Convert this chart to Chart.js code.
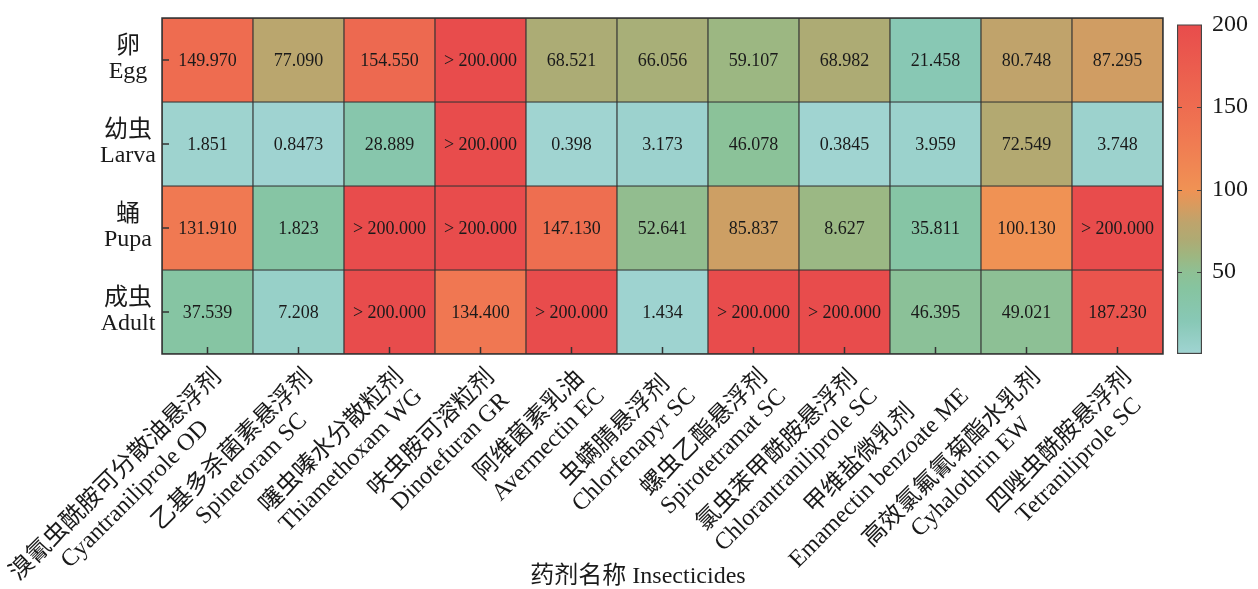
<!DOCTYPE html>
<html>
<head>
<meta charset="utf-8">
<script src="https://cdn.jsdelivr.net/npm/chart.js@4.4.1/dist/chart.umd.min.js"></script>
<style>
  body { margin: 0; background: #fff; }
  #wrap { position: relative; width: 1258px; height: 589px; }
  #heat { position: absolute; left: 0; top: 0; }
  #bar { position: absolute; left: 1170px; top: 0; }
</style>
</head>
<body>
<div id="wrap">
  <canvas id="heat" width="1258" height="589"></canvas>
  <canvas id="bar" width="88" height="589"></canvas>
</div>
<script>
const stageCN = ["卵", "幼虫", "蛹", "成虫"];
const stageEN = ["Egg", "Larva", "Pupa", "Adult"];

const insecticideCN = ["溴氰虫酰胺可分散油悬浮剂", "乙基多杀菌素悬浮剂", "噻虫嗪水分散粒剂", "呋虫胺可溶粒剂",
  "阿维菌素乳油", "虫螨腈悬浮剂", "螺虫乙酯悬浮剂", "氯虫苯甲酰胺悬浮剂", "甲维盐微乳剂",
  "高效氯氟氰菊酯水乳剂", "四唑虫酰胺悬浮剂"];
const insecticideEN = ["Cyantraniliprole OD", "Spinetoram SC", "Thiamethoxam WG", "Dinotefuran GR",
  "Avermectin EC", "Chlorfenapyr SC", "Spirotetramat SC", "Chlorantraniliprole SC",
  "Emamectin benzoate ME", "Cyhalothrin EW", "Tetraniliprole SC"];

// printed LC50 values
const eggLC50 = ["149.970", "77.090", "154.550", "> 200.000", "68.521", "66.056", "59.107", "68.982", "21.458", "80.748", "87.295"];
const larvaLC50 = ["1.851", "0.8473", "28.889", "> 200.000", "0.398", "3.173", "46.078", "0.3845", "3.959", "72.549", "3.748"];
const pupaLC50 = ["131.910", "1.823", "> 200.000", "> 200.000", "147.130", "52.641", "85.837", "8.627", "35.811", "100.130", "> 200.000"];
const adultLC50 = ["37.539", "7.208", "> 200.000", "134.400", "> 200.000", "1.434", "> 200.000", "> 200.000", "46.395", "49.021", "187.230"];

// colour scale position of each cell
const eggShade = [150, 77, 155, 200, 68.5, 66, 59, 69, 21.5, 80.7, 87.3];
const larvaShade = [1.9, 0.85, 28.9, 200, 0.4, 3.2, 46, 0.38, 4, 72.5, 3.7];
const pupaShade = [132, 36, 200, 200, 147, 52.6, 85.8, 58, 35.8, 100, 200];
const adultShade = [37.5, 7.2, 200, 134.4, 200, 1.4, 200, 200, 46.4, 49, 187];

const scaleMin = 0.3845;
const scaleMax = 200;
const scaleTicks = [50, 100, 150, 200];

const rowLabels = [eggLC50, larvaLC50, pupaLC50, adultLC50];
const rowShades = [eggShade, larvaShade, pupaShade, adultShade];

const FONT = "'Liberation Serif', 'Noto Sans CJK SC', serif";
const INK = "#1a1a1a";
const EDGE = "#333";

// colour map
const cmapStops = [0, 20, 40, 50, 60, 70, 80, 90, 100, 130, 150, 175, 200];
const cmapRGB = [
  [160, 212, 210], [136, 200, 182], [134, 196, 160], [142, 192, 148], [158, 182, 128],
  [175, 170, 115], [190, 164, 108], [215, 155, 95], [240, 146, 84], [240, 122, 82],
  [238, 108, 80], [235, 92, 78], [232, 76, 76]
];

function shadeColor(v) {
  if (v <= cmapStops[0]) return "rgb(" + cmapRGB[0].join(",") + ")";
  for (let i = 1; i < cmapStops.length; i++) {
    if (v <= cmapStops[i]) {
      const t = (v - cmapStops[i - 1]) / (cmapStops[i] - cmapStops[i - 1]);
      const a = cmapRGB[i - 1], b = cmapRGB[i];
      const c = a.map((x, k) => Math.round(x + (b[k] - x) * t));
      return "rgb(" + c.join(",") + ")";
    }
  }
  return "rgb(" + cmapRGB[cmapRGB.length - 1].join(",") + ")";
}

const datasets = stageEN.map((stage, r) => ({
  label: stage,
  data: insecticideEN.map(() => [r, r + 1]),
  backgroundColor: rowShades[r].map(shadeColor),
  borderColor: EDGE,
  borderWidth: 0.9,
  borderSkipped: false,
  barPercentage: 1,
  categoryPercentage: 1,
  grouped: false,
}));

const heatDecor = {
  id: "heatDecor",
  afterDatasetsDraw(chart) {
    const { ctx, chartArea: a, scales: { x, y } } = chart;
    ctx.save();

    // numbers inside the cells
    ctx.font = "18px " + FONT;
    ctx.fillStyle = INK;
    ctx.textAlign = "center";
    ctx.textBaseline = "middle";
    chart.data.datasets.forEach((ds, r) => {
      chart.getDatasetMeta(r).data.forEach((bar, i) => {
        ctx.fillText(rowLabels[r][i], bar.x, (bar.y + bar.base) / 2 + 1);
      });
    });

    // frame
    ctx.strokeStyle = EDGE;
    ctx.lineWidth = 1.5;
    ctx.strokeRect(a.left, a.top, a.right - a.left, a.bottom - a.top);

    // inward ticks
    ctx.beginPath();
    insecticideEN.forEach((_, i) => {
      const px = x.getPixelForValue(i);
      ctx.moveTo(px, a.bottom);
      ctx.lineTo(px, a.bottom - 7);
    });
    stageEN.forEach((_, r) => {
      const py = y.getPixelForValue(r + 0.5);
      ctx.moveTo(a.left, py);
      ctx.lineTo(a.left + 7, py);
    });
    ctx.stroke();

    // row labels
    ctx.font = "24px " + FONT;
    stageEN.forEach((en, r) => {
      const py = y.getPixelForValue(r + 0.5);
      ctx.fillText(stageCN[r], 128, py - 13);
      ctx.fillText(en, 128, py + 12);
    });

    // rotated column labels
    insecticideEN.forEach((en, i) => {
      const cn = insecticideCN[i];
      const px = x.getPixelForValue(i);
      const w = Math.max(ctx.measureText(cn).width, ctx.measureText(en).width);
      ctx.save();
      ctx.translate(px + 2, 365);
      ctx.rotate(-Math.PI / 4);
      ctx.textAlign = "center";
      ctx.textBaseline = "top";
      ctx.fillText(cn, -w / 2, 0);
      ctx.fillText(en, -w / 2, 27);
      ctx.restore();
    });

    // axis title
    ctx.textAlign = "center";
    ctx.textBaseline = "middle";
    ctx.fillText("药剂名称 Insecticides", 638, 577);
    ctx.restore();
  }
};

new Chart(document.getElementById("heat"), {
  type: "bar",
  data: { labels: insecticideEN, datasets: datasets },
  options: {
    responsive: false,
    animation: false,
    layout: { padding: { top: 18, right: 95, bottom: 0, left: 0 } },
    plugins: { legend: { display: false }, tooltip: { enabled: false } },
    scales: {
      x: {
        type: "category",
        grid: { display: false },
        border: { display: false },
        ticks: { display: false },
        afterFit: (s) => { s.height = 235; },
      },
      y: {
        type: "linear",
        min: 0,
        max: 4,
        reverse: true,
        grid: { display: false },
        border: { display: false },
        ticks: { display: false },
        afterFit: (s) => { s.width = 162; },
      },
    },
  },
  plugins: [heatDecor],
});

// colour bar
const barDecor = {
  id: "barDecor",
  afterDatasetsDraw(chart) {
    const { ctx, chartArea: a, scales: { y } } = chart;
    ctx.save();
    ctx.strokeStyle = "#444";
    ctx.lineWidth = 1.2;
    ctx.beginPath();
    scaleTicks.slice(0, -1).forEach((v) => {
      const py = Math.round(y.getPixelForValue(v)) + 0.5;
      ctx.moveTo(a.left, py);
      ctx.lineTo(a.left + 5, py);
      ctx.moveTo(a.right, py);
      ctx.lineTo(a.right - 5, py);
    });
    ctx.stroke();
    ctx.restore();
  }
};

new Chart(document.getElementById("bar"), {
  type: "bar",
  data: {
    labels: [""],
    datasets: [{
      data: [[scaleMin, scaleMax]],
      backgroundColor: (c) => {
        const chart = c.chart;
        if (!chart.chartArea) return "#ccc";
        const y = chart.scales.y;
        const g = chart.ctx.createLinearGradient(0, y.getPixelForValue(scaleMin), 0, y.getPixelForValue(scaleMax));
        cmapStops.forEach((v, k) => {
          const off = Math.max(0, (v - scaleMin) / (scaleMax - scaleMin));
          g.addColorStop(off, "rgb(" + cmapRGB[k].join(",") + ")");
        });
        return g;
      },
      borderColor: "#444",
      borderWidth: 1.5,
      borderSkipped: false,
      barPercentage: 1,
      categoryPercentage: 1,
    }],
  },
  options: {
    responsive: false,
    animation: false,
    layout: { padding: { top: 18, bottom: 235, left: 7, right: 0 } },
    plugins: { legend: { display: false }, tooltip: { enabled: false } },
    scales: {
      x: { display: false },
      y: {
        position: "right",
        min: scaleMin,
        max: scaleMax,
        grid: { display: false, drawTicks: false },
        border: { display: false },
        afterBuildTicks: (s) => { s.ticks = scaleTicks.map((v) => ({ value: v })); },
        ticks: { padding: 10, color: INK, font: { family: FONT, size: 24 } },
        afterFit: (s) => { s.width = 56; },
      },
    },
  },
  plugins: [barDecor],
});
</script>
</body>
</html>
